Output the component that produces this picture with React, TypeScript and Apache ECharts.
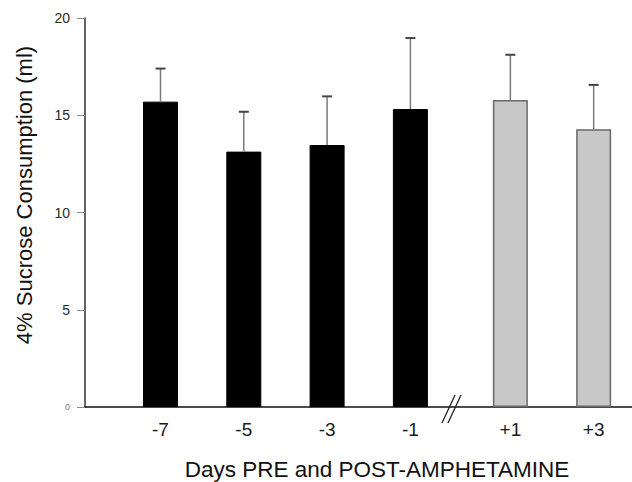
import React, { useEffect, useRef } from "react";
import * as echarts from "echarts";

const dayLabels = ["-7", "-5", "-3", "-1", "+1", "+3"];
const phase = ["pre", "pre", "pre", "pre", "post", "post"];
const meanValues = [15.7, 13.13, 13.47, 15.32, 15.78, 14.28];
const semValues = [1.7, 2.05, 2.5, 3.65, 2.33, 2.28];
const yTicks = [0, 5, 10, 15, 20];

const BREAK_GAP = 0.2;
const FONT = "'Liberation Sans', Arial, Helvetica, sans-serif";

export default function App() {
  const ref = useRef<HTMLDivElement>(null);
  useEffect(() => {
    if (!ref.current) return;
    const chart = echarts.init(ref.current, null, { renderer: "svg" });
    const pos = dayLabels.map((_, i) => i + (phase[i] === "post" ? BREAK_GAP : 0));
    const preData = pos.map((p, i) => (phase[i] === "pre" ? [p, meanValues[i]] : null)).filter(Boolean);
    const postData = pos.map((p, i) => (phase[i] === "post" ? [p, meanValues[i]] : null)).filter(Boolean);
    const errData = pos.map((p, i) => [p, meanValues[i], meanValues[i] + semValues[i]]);
    const gridLeft = 85;
    const gridW = 632 - gridLeft;
    const unit = 83.3;
    const xMin = -75.5 / unit;
    const xMax = xMin + gridW / unit;

    chart.setOption({
      animation: false,
      textStyle: { fontFamily: FONT },
      grid: { left: gridLeft, right: 0, top: 18, bottom: 75, containLabel: false },
      xAxis: {
        type: "value",
        min: xMin,
        max: xMax,
        splitLine: { show: false },
        axisLine: { show: true, onZero: false, lineStyle: { color: "#111", width: 1.5 } },
        axisTick: { show: false },
        axisLabel: {
          customValues: pos,
          margin: 13,
          fontSize: 19,
          color: "#1a1a1a",
          fontFamily: FONT,
          formatter: (v: number) => {
            let best = 0;
            pos.forEach((p, i) => {
              if (Math.abs(p - v) < Math.abs(pos[best] - v)) best = i;
            });
            return dayLabels[best];
          },
        },
      },
      yAxis: {
        type: "value",
        min: 0,
        max: 20,
        interval: 5,
        splitLine: { show: false },
        axisLine: { show: true, onZero: false, lineStyle: { color: "#333", width: 1.5 } },
        axisTick: { show: true, length: 8, lineStyle: { color: "#888" } },
        axisLabel: {
          margin: 15,
          fontSize: 14,
          color: "#2a2a2a",
          fontFamily: FONT,
          formatter: (v: number) => (v === yTicks[0] ? "{s|" + v + "}" : String(v)),
          rich: { s: { fontSize: 9, color: "#777", fontFamily: FONT } },
        },
      },
      series: [
        {
          type: "bar",
          data: preData,
          barWidth: 35,
          itemStyle: { color: "#000", borderColor: "#000", borderWidth: 1 },
          z: 2,
        },
        {
          type: "bar",
          data: postData,
          barWidth: 35,
          barGap: "-100%",
          itemStyle: { color: "#c8c8c8", borderColor: "#6a6a6a", borderWidth: 1.5 },
          z: 2,
        },
        {
          type: "custom",
          z: 3,
          data: errData,
          renderItem: (params: any, api: any) => {
            const x = api.value(0);
            const lo = api.coord([x, api.value(1)]);
            const hi = api.coord([x, api.value(2)]);
            const color = "#7a7a7a";
            return {
              type: "group",
              children: [
                { type: "line", shape: { x1: lo[0], y1: lo[1], x2: hi[0], y2: hi[1] }, style: { stroke: color, lineWidth: 1.5 } },
                { type: "line", shape: { x1: hi[0] - 5, y1: hi[1], x2: hi[0] + 5, y2: hi[1] }, style: { stroke: "#444", lineWidth: 2 } },
              ],
            };
          },
        },
      ],
      graphic: [
        {
          type: "text",
          x: 24,
          y: 195,
          rotation: Math.PI / 2,
          style: {
            text: "4% Sucrose Consumption (ml)",
            fontSize: 22,
            fontFamily: FONT,
            fill: "#111",
            align: "center",
            verticalAlign: "middle",
          },
        },
        {
          type: "text",
          x: 377,
          y: 469,
          style: {
            text: "Days PRE and POST-AMPHETAMINE",
            fontSize: 22.5,
            fontFamily: FONT,
            fill: "#111",
            align: "center",
            verticalAlign: "middle",
          },
        },
        { type: "line", shape: { x1: 442, y1: 423, x2: 455, y2: 395 }, style: { stroke: "#222", lineWidth: 1.3 }, z: 10 },
        { type: "line", shape: { x1: 448, y1: 423, x2: 461, y2: 395 }, style: { stroke: "#222", lineWidth: 1.3 }, z: 10 },
      ],
    });
    return () => chart.dispose();
  }, []);
  return <div ref={ref} style={{ width: 632, height: 482, position: "absolute", left: 0, top: 0 }} />;
}
